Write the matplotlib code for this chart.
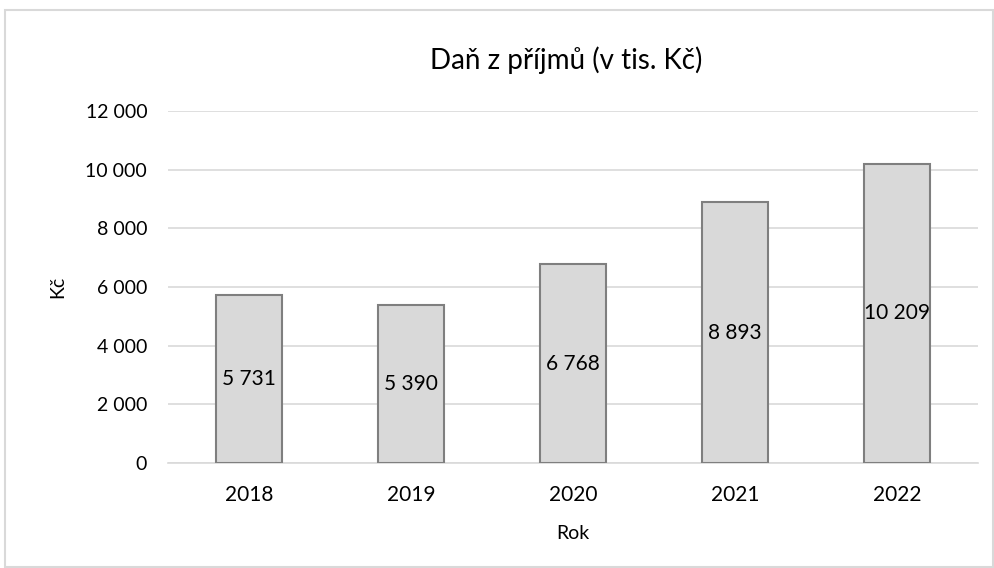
import matplotlib
matplotlib.use("Agg")
import matplotlib.pyplot as plt
from matplotlib.patches import Rectangle
from matplotlib.ticker import FuncFormatter

years = ["2018", "2019", "2020", "2021", "2022"]
values = [5731, 5390, 6768, 8893, 10209]
yticks = [0, 2000, 4000, 6000, 8000, 10000, 12000]

def fmt(v):
    return f"{int(v):,}".replace(",", " ")

plt.rcParams['font.family'] = ['Lato', 'DejaVu Sans']

W, H = 994, 568
fig = plt.figure(figsize=(W / 100, H / 100), dpi=100)
fig.patch.set_facecolor("white")

# chart border
fig.add_artist(Rectangle((5 / W, 1 - 567 / H), 988 / W, 557 / H,
                         transform=fig.transFigure, fill=False,
                         edgecolor="#d9d9d9", linewidth=1.5))

left, right, top, bottom = 168, 978, 111, 463
ax = fig.add_axes([left / W, 1 - bottom / H, (right - left) / W, (bottom - top) / H])

x = list(range(len(years)))
bars = ax.bar(x, values, width=0.41, color="#d9d9d9", edgecolor="#7f7f7f",
              linewidth=1.5, zorder=3)
for xi, v in zip(x, values):
    ax.text(xi, v / 2, fmt(v), ha="center", va="center", fontsize=15,
            color="black", zorder=4)

ax.set_xlim(-0.5, len(years) - 0.5)
ax.set_ylim(0, 12000)
ax.set_yticks(yticks)
ax.yaxis.set_major_formatter(FuncFormatter(lambda v, p: fmt(v)))
ax.set_xticks(x)
ax.set_xticklabels(years)
ax.tick_params(axis="both", length=0, colors="black")
ax.tick_params(axis="y", pad=15, labelsize=14)
ax.tick_params(axis="x", pad=16, labelsize=15)
ax.grid(axis="y", color="#d9d9d9", linewidth=1.2, zorder=0)
for s in ["top", "right", "left"]:
    ax.spines[s].set_visible(False)
ax.spines["bottom"].set_color("#d9d9d9")
ax.spines["bottom"].set_linewidth(1.2)

ax.set_ylabel("Kč", fontsize=14, labelpad=14)
ax.set_xlabel("Rok", fontsize=14, labelpad=14)

fig.text(566 / W, 1 - 60 / H, "Daň z příjmů (v tis. Kč)", ha="center",
         va="center", fontsize=20)

fig.savefig("out.png", dpi=100, facecolor="white")
